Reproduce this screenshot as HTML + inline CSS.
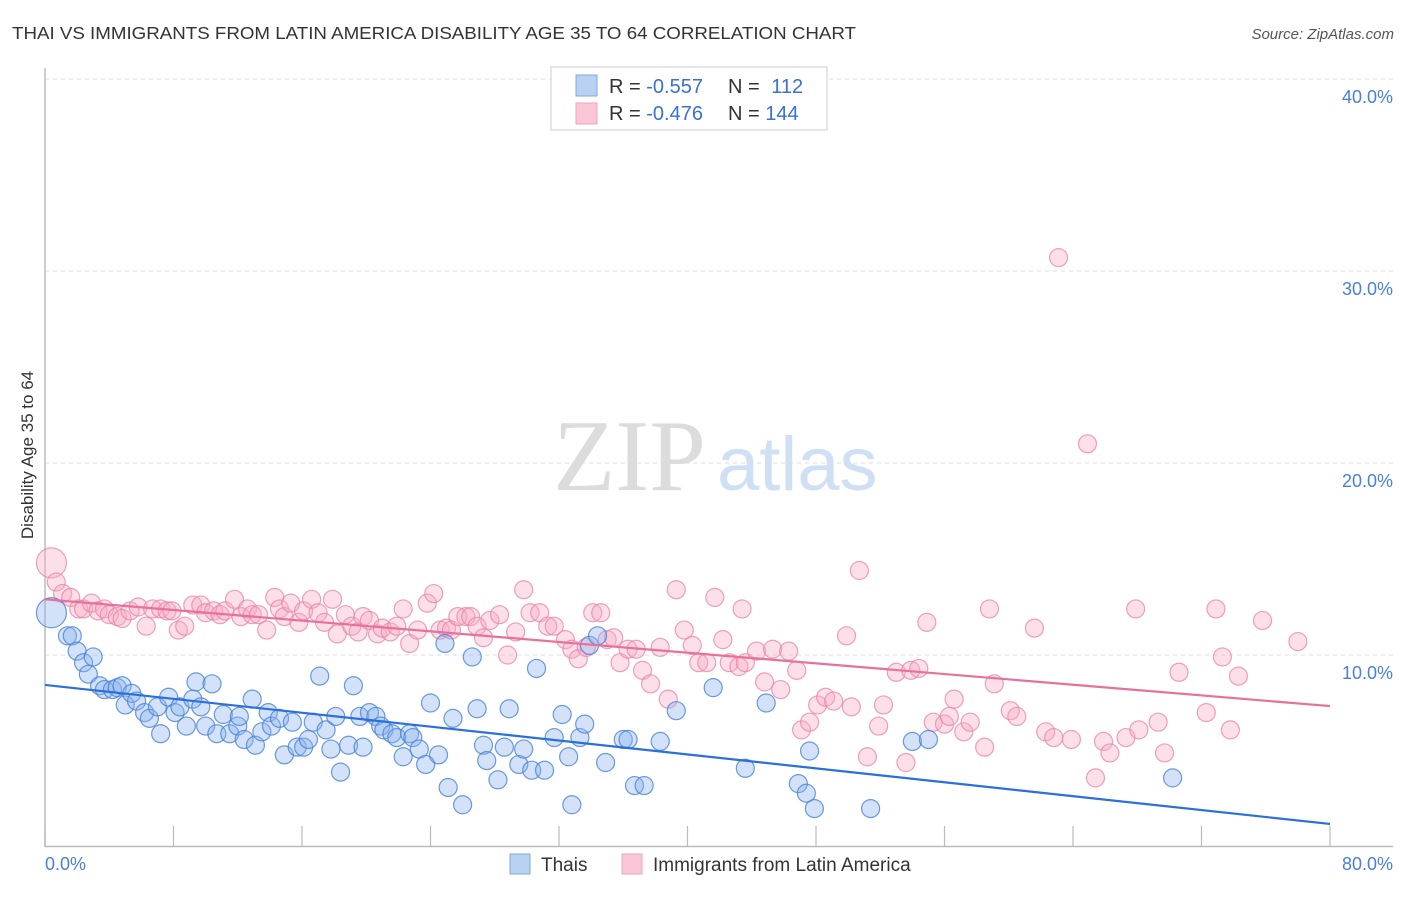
<!DOCTYPE html>
<html><head><meta charset="utf-8"><style>
html,body{margin:0;padding:0;background:#fff;}
body{width:1406px;height:892px;overflow:hidden;font-family:"Liberation Sans",sans-serif;}
</style></head><body>
<svg id="chart" width="1406" height="892" xmlns="http://www.w3.org/2000/svg" font-family="Liberation Sans, sans-serif">
<text x="12" y="39" font-size="17.5" fill="#333" textLength="844" lengthAdjust="spacingAndGlyphs">THAI VS IMMIGRANTS FROM LATIN AMERICA DISABILITY AGE 35 TO 64 CORRELATION CHART</text>
<text x="1394" y="39" font-size="15" fill="#555" font-style="italic" text-anchor="end">Source: ZipAtlas.com</text>
<g id="grid"></g>
<g>
<text x="553" y="490" font-family="Liberation Serif, serif" font-size="102" fill="#dcdcdc">ZIP</text>
<text x="717" y="490" font-size="76" fill="#cfe0f5">atlas</text>
</g>
<line x1="45" y1="68" x2="45" y2="847" stroke="#bbb" stroke-width="1.5"/>
<line x1="45" y1="846.5" x2="1393" y2="846.5" stroke="#bbb" stroke-width="1.5"/>
<g id="ticks"></g>
<g id="pts"></g>
<g id="lines"></g>
<text transform="translate(33,455) rotate(-90)" font-size="17" fill="#333" text-anchor="middle">Disability Age 35 to 64</text>
<text x="45" y="870" font-size="18" fill="#4a7fd8">0.0%</text>
<text x="1393" y="870" font-size="18" fill="#4a7fd8" text-anchor="end">80.0%</text>
<g>
<rect x="551" y="67" width="276" height="63" fill="#fff" stroke="#ddd" stroke-width="1.5"/>
<rect x="576" y="75" width="21" height="21" fill="#b8d2f4" stroke="#7fa8e0"/>
<rect x="576" y="103" width="21" height="21" fill="#fac6d6" stroke="#eea5bd"/>
<text x="609" y="93" font-size="20" fill="#333">R = <tspan fill="#3a70d0">-0.557</tspan></text>
<text x="728" y="93" font-size="20" fill="#333">N = <tspan dx="6" fill="#3a70d0">112</tspan></text>
<text x="609" y="120" font-size="20" fill="#333">R = <tspan fill="#3a70d0">-0.476</tspan></text>
<text x="728" y="120" font-size="20" fill="#333">N = <tspan fill="#3a70d0">144</tspan></text>
</g>
<g>
<rect x="510" y="854" width="20" height="20" fill="#b8d2f4" stroke="#7fa8e0"/>
<text x="541" y="871" font-size="19" fill="#333">Thais</text>
<rect x="622" y="854" width="20" height="20" fill="#fac6d6" stroke="#eea5bd"/>
<text x="653" y="871" font-size="19" fill="#333">Immigrants from Latin America</text>
</g>
</svg>
<script>
const yTicks=[10,20,30,40];
const yTickLabels=["10.0%","20.0%","30.0%","40.0%"];
const xTicks=[0,8,16,24,32,40,48,56,64,72,80];
const thaisX=[0.4,1.4,1.7,2.0,2.4,2.7,3.0,3.4,3.7,4.2,4.5,4.8,5.0,5.4,5.7,6.2,6.5,7.0,7.2,7.7,8.1,8.4,8.8,9.2,9.4,9.7,10.0,10.4,10.7,11.1,11.5,12.0,12.1,12.4,12.9,13.1,13.5,13.9,14.1,14.6,14.9,15.4,15.7,16.1,16.4,16.7,17.1,17.5,17.8,18.1,18.4,18.9,19.2,19.6,19.8,20.2,20.6,20.9,21.1,21.6,21.9,22.3,22.7,22.9,23.3,23.7,24.0,24.5,24.9,25.1,25.4,26.0,26.6,26.9,27.3,27.5,28.2,28.6,28.9,29.5,29.8,30.3,30.6,31.1,31.7,32.2,32.6,32.8,33.3,33.6,33.9,34.4,34.9,36.0,36.3,36.7,37.3,38.3,39.3,41.6,43.6,44.9,46.9,47.4,47.6,47.9,51.4,54.0,55.0,70.2];
const thaisY=[12.2,11.0,11.0,10.2,9.6,9.0,9.9,8.4,8.2,8.2,8.3,8.4,7.4,8.0,7.6,7.0,6.7,7.3,5.9,7.8,7.0,7.3,6.3,7.7,8.6,7.3,6.3,8.5,5.9,6.9,5.9,6.3,6.8,5.6,7.7,5.3,6.0,7.0,6.3,6.7,4.8,6.5,5.2,5.2,5.6,6.5,8.9,6.1,5.1,6.8,3.9,5.3,8.4,6.8,5.2,7.0,6.8,6.3,6.1,5.9,5.7,4.7,5.9,5.7,5.1,4.3,7.5,4.8,10.6,3.1,6.7,2.2,9.9,7.2,5.3,4.5,3.5,5.2,7.2,4.3,5.1,4.0,9.3,4.0,5.7,6.9,4.7,2.2,5.7,6.4,10.5,11.0,4.4,5.6,5.6,3.2,3.2,5.5,7.1,8.3,4.1,7.5,3.3,2.8,5.0,2.0,2.0,5.5,5.6,3.6];
const latX=[0.4,0.7,1.1,1.6,2.1,2.4,2.9,3.3,3.7,4.0,4.5,4.8,5.3,5.8,6.3,6.7,7.2,7.6,7.9,8.3,8.7,9.2,9.7,10.0,10.5,10.9,11.2,11.8,12.2,12.6,12.9,13.3,13.8,14.3,14.6,14.9,15.3,15.8,16.1,16.6,17.0,17.4,17.9,18.2,18.7,19.1,19.5,19.8,20.2,20.7,21.0,21.5,21.9,22.3,22.7,23.2,23.8,24.2,24.6,25.0,25.3,25.7,26.2,26.5,26.9,27.3,27.7,28.3,28.8,29.3,29.8,30.2,30.8,31.3,31.7,32.4,32.8,33.2,33.7,34.1,34.6,35.0,35.4,35.8,36.3,36.8,37.2,37.7,38.3,38.8,39.3,39.8,40.3,40.7,41.2,41.7,42.2,42.6,43.2,43.4,43.6,44.3,44.8,45.3,45.8,46.3,46.8,47.1,47.6,48.1,48.6,49.1,49.9,50.2,50.7,51.2,51.9,52.2,53.0,53.6,53.9,54.4,54.9,55.3,56.0,56.3,56.6,57.2,57.6,58.5,58.8,59.1,60.1,60.5,61.6,62.3,62.8,63.1,63.9,64.9,65.4,65.9,66.3,67.3,67.9,68.1,69.3,69.7,70.6,72.3,72.9,73.3,73.8,74.3,75.8,78.0];
const latY=[14.8,13.8,13.2,13.0,12.4,12.4,12.7,12.3,12.4,12.1,12.0,11.9,12.3,12.5,11.5,12.4,12.4,12.3,12.3,11.3,11.5,12.6,12.6,12.2,12.3,12.1,12.3,12.9,12.0,12.4,12.1,12.1,11.3,13.0,12.4,12.0,12.7,11.7,12.3,12.9,12.2,11.7,12.9,11.1,12.1,11.5,11.2,12.0,11.8,11.1,11.4,11.2,11.5,12.4,10.6,11.3,12.7,13.2,11.3,11.4,11.3,12.0,12.0,12.0,11.5,10.9,11.8,12.1,10.0,11.2,13.4,12.2,12.2,11.5,11.5,10.8,10.3,9.8,10.4,12.2,12.2,10.8,10.9,9.6,10.3,10.3,9.2,8.5,10.4,7.7,13.4,11.3,10.5,9.6,9.6,13.0,10.8,9.6,9.4,12.4,9.6,10.2,8.6,10.3,8.2,10.2,9.2,6.1,6.5,7.4,7.8,7.6,11.0,7.3,14.4,4.7,6.3,7.4,9.1,4.4,9.2,9.3,11.7,6.5,6.4,6.8,7.7,6.0,6.5,5.2,12.4,8.5,7.1,6.8,11.4,6.0,5.7,30.7,5.6,21.0,3.6,5.5,4.9,5.7,12.4,6.1,6.5,4.9,9.1,7.0,12.4,9.9,6.1,8.9,11.8,10.7];
const thaisTrend=[8.44,1.2];
const latTrend=[12.9,7.34];

const NS="http://www.w3.org/2000/svg";
const xs=v=>45+v/80*1285;
const ys=v=>847-v*19.2;
function mk(tag,attrs,parent){const e=document.createElementNS(NS,tag);for(const k in attrs)e.setAttribute(k,attrs[k]);parent.appendChild(e);return e;}
const grid=document.getElementById('grid');
yTicks.forEach((t,i)=>{
  const l=mk('line',{x1:45,x2:1393,y1:ys(t),y2:ys(t),stroke:'#ddd','stroke-dasharray':'4,4'},grid);
  
  
  const tx=mk('text',{x:1393,y:ys(t)+24,'font-size':18,fill:'#4a7fd8','text-anchor':'end'},grid);
  tx.textContent=yTickLabels[i];
  
  
});
const ticks=document.getElementById('ticks');
xTicks.forEach(t=>{
  const l=mk('line',{x1:xs(t),x2:xs(t),y1:826,y2:847,stroke:'#bbb','stroke-width':1.2},ticks);
  
  
});
const pts=document.getElementById('pts');
function drawPts(X,Y,fill,stroke,name){
  X.forEach((x,i)=>{
    const big=(i===0);
    const c=mk('circle',{cx:xs(x),cy:ys(Y[i]),r:big?15:9,fill:fill,stroke:stroke,'stroke-width':1.2},pts);
    
    
  });
}
drawPts(latX,latY,'rgba(246,170,196,0.38)','rgba(234,130,165,0.75)','latam-point');
drawPts(thaisX,thaisY,'rgba(140,180,236,0.38)','rgba(70,130,215,0.8)','thais-point');
const lines=document.getElementById('lines');
const lt=mk('line',{x1:xs(0),y1:ys(latTrend[0]),x2:xs(80),y2:ys(latTrend[1]),stroke:'#e8709a','stroke-width':2.2},lines);


const bt=mk('line',{x1:xs(0),y1:ys(thaisTrend[0]),x2:xs(80),y2:ys(thaisTrend[1]),stroke:'#2a6fdb','stroke-width':2.2},lines);


</script>
</body></html>
